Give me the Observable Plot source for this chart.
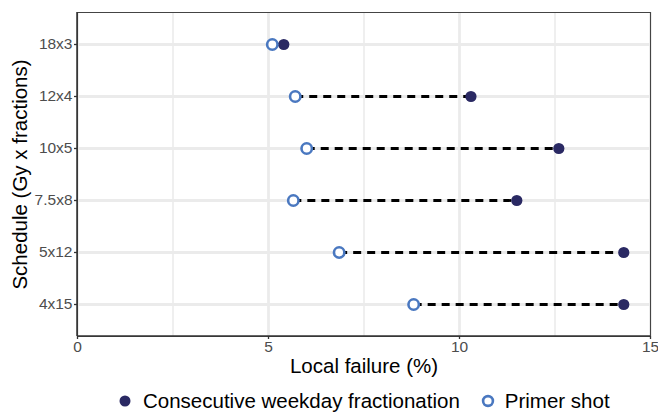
<!DOCTYPE html>
<html>
<head>
<meta charset="utf-8">
<script src="https://cdn.jsdelivr.net/npm/d3@7"></script>
<script src="https://cdn.jsdelivr.net/npm/@observablehq/plot@0.6"></script>
<style>
  body { margin: 0; background: #fff; font-family: Arial, "Liberation Sans", sans-serif; }
  #chart svg { display: block; }
  #legend { display: flex; justify-content: flex-start; align-items: center; height: 40px; font-size: 20.5px; color: #000; padding-left: 118px; padding-top: 2px; box-sizing: border-box; }
  .item { display: flex; align-items: center; }
  .item svg { display: block; }
</style>
</head>
<body>
<div id="chart"></div>
<div id="legend"></div>
<script>
const schedules = ["18x3", "12x4", "10x5", "7.5x8", "5x12", "4x15"];
const consecutive = [5.4, 10.3, 12.6, 11.5, 14.3, 14.3];
const primer = [5.1, 5.7, 6.0, 5.65, 6.85, 8.8];
const xTicks = [0, 5, 10, 15];
const xMinor = [2.5, 7.5, 12.5];
const seriesNames = ["Consecutive weekday fractionation", "Primer shot"];
const colors = ["#2a2963", "#4a78c0"];

const rows = schedules.map((s, i) => ({schedule: s, cons: consecutive[i], prim: primer[i]}));

const W = 658, H = 380;
const plot = Plot.plot({
  width: W,
  height: H,
  marginLeft: 77,
  marginRight: 8,
  marginTop: 12,
  marginBottom: H - 336,
  style: {fontFamily: "Arial, 'Liberation Sans', sans-serif", background: "#fff", fontSize: "15.5px"},
  x: {domain: [0, 15], ticks: xTicks, label: null},
  y: {type: "point", domain: schedules, padding: 0.6, label: null},
  marks: [
    Plot.gridX(xMinor, {stroke: "#ebebeb", strokeOpacity: 1, strokeWidth: 1.6}),
    Plot.gridX(xTicks, {stroke: "#ebebeb", strokeOpacity: 1, strokeWidth: 2.8}),
    Plot.gridY(schedules, {stroke: "#ebebeb", strokeOpacity: 1, strokeWidth: 2.8}),
    Plot.frame({stroke: "#444", strokeWidth: 1}),
    Plot.link(rows, {x1: "prim", x2: "cons", y1: "schedule", y2: "schedule", stroke: "#000", strokeWidth: 2.8, strokeDasharray: "8,6"}),
    Plot.dot(rows, {x: "cons", y: "schedule", r: 5.6, fill: colors[0], stroke: "none"}),
    Plot.dot(rows, {x: "prim", y: "schedule", r: 5.2, fill: "#fff", stroke: colors[1], strokeWidth: 2.6}),
    Plot.axisY({tickSize: 3, tickPadding: 2, fontSize: 15.5, color: "#4d4d4d", stroke: "#333", strokeWidth: 1.3, label: null}),
    Plot.axisX({ticks: xTicks, tickSize: 3, tickPadding: 1, fontSize: 15.5, color: "#4d4d4d", stroke: "#333", strokeWidth: 1.3, label: null}),
    Plot.text(["Local failure (%)"], {frameAnchor: "bottom", textAnchor: "middle", lineAnchor: "middle", dy: 30, fontSize: 20.5, fill: "#000"}),
    Plot.text(["Schedule (Gy x fractions)"], {frameAnchor: "left", textAnchor: "middle", lineAnchor: "middle", dx: -57, rotate: -90, fontSize: 20.5, fill: "#000"})
  ]
});
const svg = d3.select(plot);
const tickStrings = new Set([...schedules, ...xTicks.map(String)]);
svg.selectAll("text").each(function() {
  if (tickStrings.has(this.textContent.trim())) {
    this.style.fontSize = "15.5px";
    this.style.fill = "#4d4d4d";
  }
});
svg.append("line").attr("x1", 77).attr("x2", 650).attr("y1", 336).attr("y2", 336).attr("stroke", "#333").attr("stroke-width", 1.5);
svg.append("line").attr("x1", 77).attr("x2", 77).attr("y1", 12).attr("y2", 336).attr("stroke", "#333").attr("stroke-width", 1.5);
document.getElementById("chart").appendChild(plot);

const legend = document.getElementById("legend");
seriesNames.forEach((name, i) => {
  const item = document.createElement("div");
  item.className = "item";
  const sw = i === 0
    ? `<svg width="14" height="14"><circle cx="7" cy="7" r="5.5" fill="${colors[0]}"/></svg>`
    : `<svg width="14" height="14"><circle cx="7" cy="7" r="4.9" fill="#fff" stroke="${colors[1]}" stroke-width="2.6"/></svg>`;
  item.innerHTML = sw + `<span style="margin-left:${i === 0 ? 11 : 10}px">${name}</span>`;
  if (i === 1) item.style.marginLeft = "21px";
  legend.appendChild(item);
});
</script>
</body>
</html>
